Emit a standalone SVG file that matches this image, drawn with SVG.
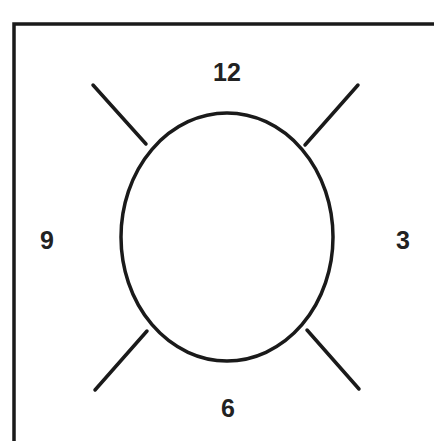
<svg xmlns="http://www.w3.org/2000/svg" width="434" height="441" viewBox="0 0 434 441">
<style>
.ln{stroke:#1a1a1a;stroke-width:3.5;stroke-linecap:round;fill:none}
.lb{font-family:"Liberation Sans",Arial,sans-serif;font-size:25px;font-weight:bold;fill:#222;text-anchor:middle}
</style>
<rect width="434" height="441" fill="#fff"/>
<g id="frame"><path class="ln" d="M14 445 V24 H440" stroke-linecap="butt"/></g>
<g id="dial"><ellipse class="ln" cx="227" cy="237" rx="106" ry="124"/></g>
<g id="connectors">
<line class="ln" x1="93" y1="85" x2="146" y2="144"/>
<line class="ln" x1="358" y1="85" x2="305" y2="145"/>
<line class="ln" x1="147" y1="331" x2="95" y2="390"/>
<line class="ln" x1="307" y1="330" x2="359" y2="389"/>
</g>
<g id="n12"><text class="lb" x="227" y="81">12</text></g>
<g id="n9"><text class="lb" x="47" y="249">9</text></g>
<g id="n3"><text class="lb" x="403" y="249">3</text></g>
<g id="n6"><text class="lb" x="228" y="417">6</text></g>
</svg>
